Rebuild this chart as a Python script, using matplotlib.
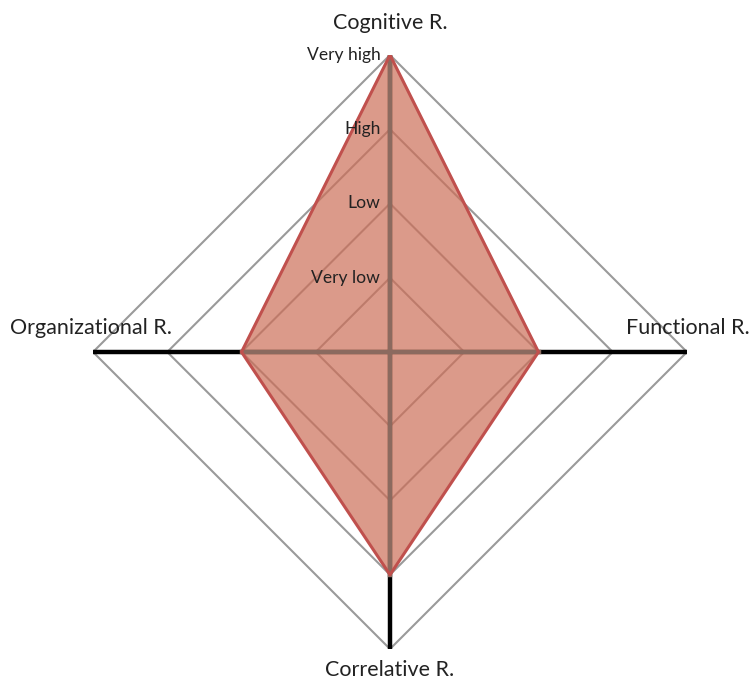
import numpy as np
import matplotlib.pyplot as plt

categories = ['Cognitive R.', 'Functional R.', 'Correlative R.', 'Organizational R.']
values = [4, 2, 3, 2]
levels = [1, 2, 3, 4]
level_labels = ['Very low', 'Low', 'High', 'Very high']

plt.rcParams['font.family'] = ['Lato', 'DejaVu Sans']

angles = np.linspace(0, 2 * np.pi, len(categories), endpoint=False)
closed_ang = np.append(angles, angles[0])

fig = plt.figure(figsize=(7.51, 6.8), dpi=100)
# centre at (390, 352) px, radius of level 4 ~ 297 px
R = 297
ax = fig.add_axes([(390 - R) / 751, (328 - R) / 680, 2 * R / 751, 2 * R / 680],
                  projection='polar')
ax.set_theta_offset(np.pi / 2)
ax.set_theta_direction(-1)
ax.set_ylim(0, 4)
ax.grid(False)
ax.set_xticks([])
ax.set_yticks([])
ax.spines['polar'].set_visible(False)
ax.patch.set_alpha(0)

# level diamonds
for lv in levels:
    ax.plot(closed_ang, [lv] * len(closed_ang), color='#9a9a9a', lw=1.5, zorder=1)

# axes spokes
for a in angles:
    ax.plot([a, a], [0, levels[-1]], color='black', lw=3.2, zorder=2,
            solid_capstyle='round')

# data polygon
vals = values + values[:1]
ax.fill(closed_ang, vals, color='#cd6f58', alpha=0.7, zorder=3, lw=0)
# spokes seen through the fill look greyish brown
for a, v in zip(angles, values):
    ax.plot([a, a], [0, v], color='#8b6a5f', lw=3.2, zorder=3.5)
ax.plot(closed_ang, vals, color='#c0504d', lw=2.2, zorder=4)

# level labels along the top axis
for lv, lab in zip(levels, level_labels):
    ax.annotate(lab, xy=(0, lv), xytext=(-7, 0), textcoords='offset points',
                ha='right', va='center', fontsize=12.6, color='#222222', zorder=5,
                annotation_clip=False)

# category labels
offsets = [((0, 16), 'center', 'bottom'),
           ((45, 10), 'right', 'bottom'),
           ((0, -8), 'center', 'top'),
           ((-60, 10), 'left', 'bottom')]
for a, cat, (off, ha, va) in zip(angles, categories, offsets):
    ax.annotate(cat, xy=(a, levels[-1]), xytext=off, textcoords='offset points',
                ha=ha, va=va, fontsize=15.5, color='#222222', annotation_clip=False)

fig.savefig('out.png', dpi=100)
